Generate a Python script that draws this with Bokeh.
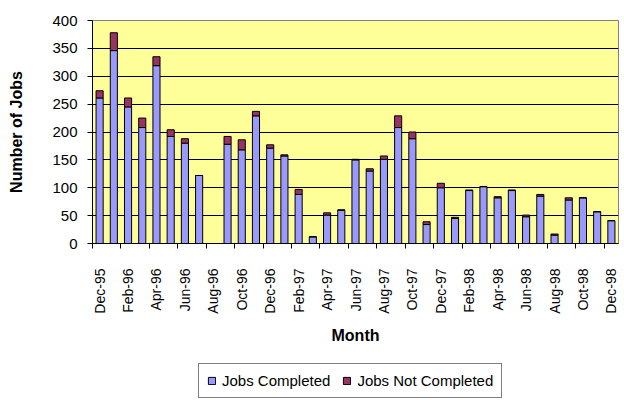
import math
from bokeh.plotting import figure
from bokeh.layouts import column
from bokeh.models import FixedTicker, Legend, LegendItem, Range1d, ColumnDataSource
from bokeh.embed import file_html
from bokeh.resources import INLINE

months = ["Dec-95", "Jan-96", "Feb-96", "Mar-96", "Apr-96", "May-96", "Jun-96", "Jul-96",
          "Aug-96", "Sep-96", "Oct-96", "Nov-96", "Dec-96", "Jan-97", "Feb-97", "Mar-97",
          "Apr-97", "May-97", "Jun-97", "Jul-97", "Aug-97", "Sep-97", "Oct-97", "Nov-97",
          "Dec-97", "Jan-98", "Feb-98", "Mar-98", "Apr-98", "May-98", "Jun-98", "Jul-98",
          "Aug-98", "Sep-98", "Oct-98", "Nov-98", "Dec-98"]
completed = [261, 346, 245, 208, 319, 192, 180, 122, 0, 178, 168, 229, 171, 157, 88, 12,
             51, 60, 150, 130, 151, 208, 188, 34, 100, 45, 95, 102, 82, 95, 48, 85,
             15, 78, 82, 57, 41]
not_completed = [13, 32, 16, 17, 16, 12, 8, 0, 0, 14, 18, 8, 6, 2, 9, 0,
                 4, 0, 1, 4, 6, 21, 12, 5, 8, 2, 1, 0, 2, 1, 3, 3,
                 2, 4, 0, 0, 0]
y_ticks = [0, 50, 100, 150, 200, 250, 300, 350, 400]
series_names = ["Jobs Completed", "Jobs Not Completed"]
series_colors = ["#9999FF", "#993366"]

FONT = "Liberation Sans"
n = len(months)
xs = [i + 0.5 for i in range(n)]
src = ColumnDataSource(dict(x=xs, completed=completed, not_completed=not_completed))

p = figure(width=624, height=350, output_backend="svg", toolbar_location=None,
           x_range=Range1d(0, n), y_range=Range1d(0, 400),
           min_border_left=92, min_border_right=6, min_border_top=20, min_border_bottom=107)
p.background_fill_color = "#FFFF99"
p.border_fill_color = "white"
p.outline_line_color = "#808080"

rs = p.vbar_stack(["completed", "not_completed"], x="x", width=0.5, source=src,
                  fill_color=series_colors, line_color="black", line_width=1)

# x axis
xa = p.xaxis[0]
xa.ticker = FixedTicker(ticks=[i + 0.5 for i in range(0, n, 2)],
                        minor_ticks=list(range(0, n + 1, 2)))
xa.major_label_overrides = {i + 0.5: months[i] for i in range(0, n, 2)}
xa.major_tick_out = 0
xa.major_tick_in = 0
xa.minor_tick_out = 5
xa.minor_tick_in = 0
xa.minor_tick_line_color = "black"
xa.major_label_orientation = math.pi / 2
xa.major_label_standoff = 20
xa.major_label_text_font = FONT
xa.major_label_text_font_size = "14px"
xa.major_label_text_color = "black"
xa.axis_line_color = "black"
xa.axis_label = "Month"
xa.axis_label_text_font = FONT
xa.axis_label_text_font_style = "bold"
xa.axis_label_text_font_size = "16px"
xa.axis_label_text_color = "black"
xa.axis_label_standoff = 10

# y axis
ya = p.yaxis[0]
ya.ticker = FixedTicker(ticks=y_ticks, minor_ticks=[])
ya.major_tick_out = 5
ya.major_tick_in = 0
ya.major_tick_line_color = "black"
ya.major_label_standoff = 10
ya.major_label_text_font = FONT
ya.major_label_text_font_size = "15px"
ya.major_label_text_color = "black"
ya.axis_line_color = "black"
ya.axis_label = "Number of Jobs"
ya.axis_label_text_font = FONT
ya.axis_label_text_font_style = "bold"
ya.axis_label_text_font_size = "16px"
ya.axis_label_text_color = "black"
ya.axis_label_standoff = 24

p.xgrid.visible = False
p.ygrid.ticker = FixedTicker(ticks=y_ticks)
p.ygrid.grid_line_color = "black"
p.ygrid.grid_line_width = 1

# legend strip below the chart, with the same side borders as the chart
lg = figure(width=624, height=50, output_backend="svg", toolbar_location=None,
            x_range=Range1d(0, 1), y_range=Range1d(0, 1),
            min_border_left=92, min_border_right=6, min_border_top=0, min_border_bottom=0)
lg.axis.visible = False
lg.grid.visible = False
lg.outline_line_color = None
lg.background_fill_color = "white"
lg.border_fill_color = "white"
# legend-only renderers: their bar has no height, so nothing is drawn in the strip
dummies = [lg.vbar(x=[0.5], top=[float("nan")], width=0.5, fill_color=c,
                   line_color="black", line_width=1)
           for c in series_colors]

legend = Legend(items=[LegendItem(label=name, renderers=[r])
                       for name, r in zip(series_names, dummies)],
                location=(106, 2), orientation="horizontal")
legend.glyph_width = 9
legend.glyph_height = 9
legend.label_standoff = 6
legend.spacing = 12
legend.padding = 8
legend.margin = 0
legend.label_height = 14
legend.label_text_font = FONT
legend.label_text_font_size = "15px"
legend.label_text_color = "black"
legend.border_line_color = "black"
legend.border_line_width = 1
legend.background_fill_color = "white"
legend.background_fill_alpha = 1
lg.add_layout(legend, "center")

layout = column(p, lg, spacing=0)
open("out.html", "w").write(file_html(layout, INLINE))
